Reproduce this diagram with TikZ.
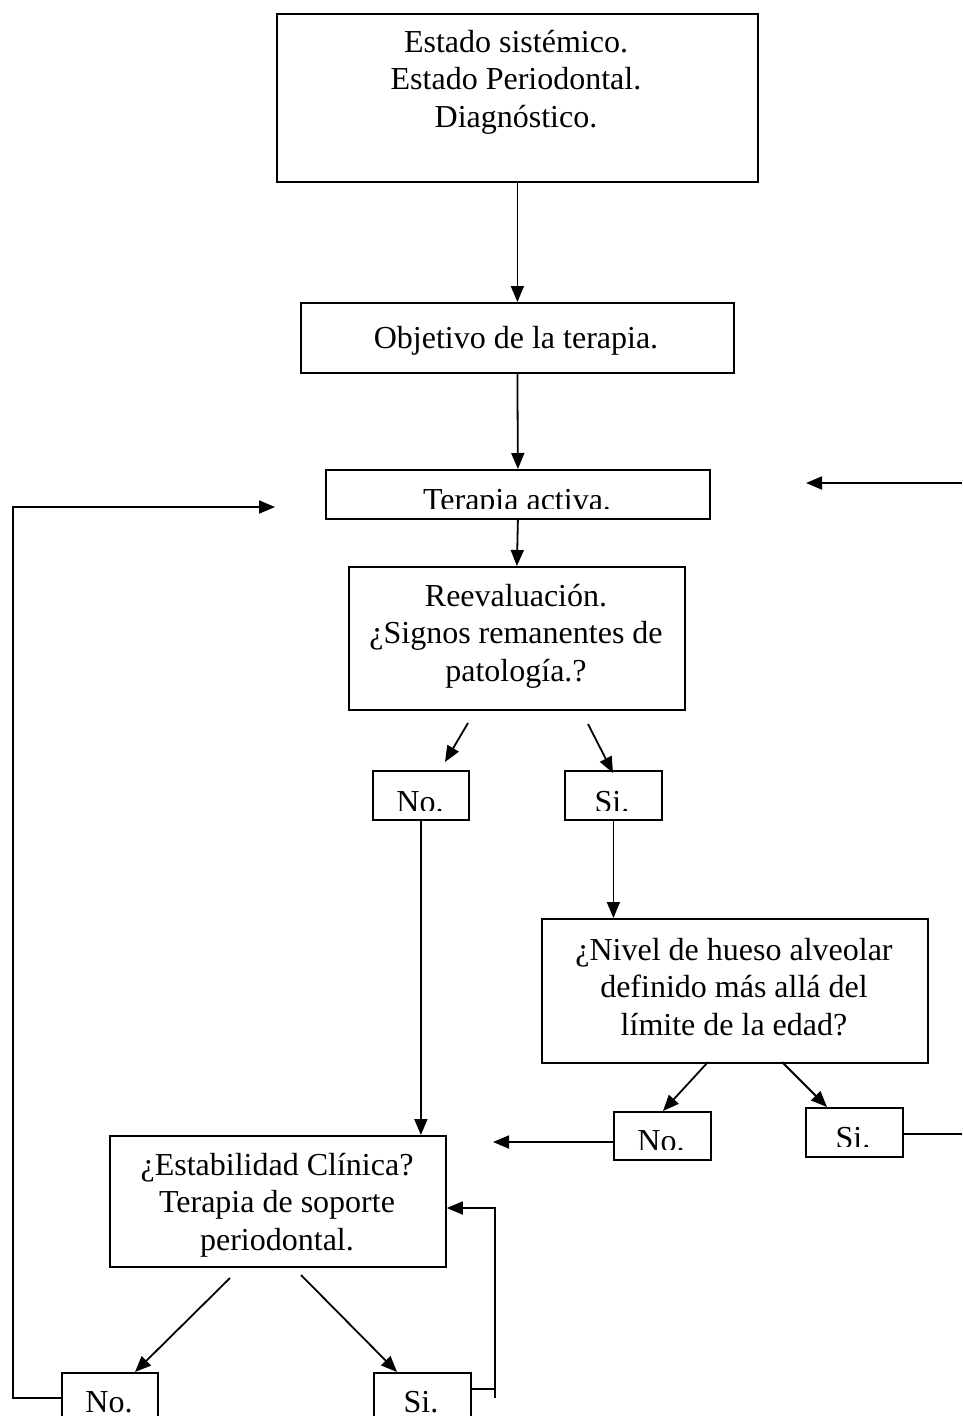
\documentclass[tikz,border=0pt]{standalone}
\usepackage{fontspec}
\setmainfont{Liberation Serif}
\usetikzlibrary{arrows.meta}
\begin{document}
\begin{tikzpicture}[x=1pt,y=-1pt,
  box/.style={draw,line width=1.8pt,anchor=north west,inner sep=0pt},
  txt/.style={font=\fontsize{32}{37.5}\selectfont,align=center,inner sep=0pt,anchor=base},
  conn/.style={line width=1.8pt},
  arr/.style={conn,-{Triangle[length=16pt,width=13pt]}}]
\useasboundingbox (0,0) rectangle (962,1416);

% boxes
\node[box,minimum width=481pt,minimum height=168pt] (b1) at (276,13) {};
\node[box,minimum width=433pt,minimum height=70pt] (b2) at (300,302) {};
\node[box,minimum width=384pt,minimum height=49pt] (b3) at (325,469) {};
\node[box,minimum width=336pt,minimum height=143pt] (b4) at (348,566) {};
\node[box,minimum width=96pt,minimum height=49pt] (n1) at (372,770) {};
\node[box,minimum width=97pt,minimum height=49pt] (s1) at (564,770) {};
\node[box,minimum width=386pt,minimum height=144pt] (b5) at (541,918) {};
\node[box,minimum width=97pt,minimum height=48pt] (n2) at (613,1111) {};
\node[box,minimum width=97pt,minimum height=49pt] (s2) at (805,1107) {};
\node[box,minimum width=336pt,minimum height=131pt] (b6) at (109,1135) {};
\node[box,minimum width=96pt,minimum height=60pt] (n3) at (61,1372) {};
\node[box,minimum width=97pt,minimum height=60pt] (s3) at (373,1372) {};

% texts (base anchor = baseline of the last line)
\node[txt] (t1) at (516,127) {Estado sistémico.\\Estado Periodontal.\\Diagnóstico.};
\node[txt] (t2) at (516,348) {Objetivo de la terapia.};
\begin{scope}
  \clip (325,469) rectangle (709,508);
  \node[txt] (t3) at (517,510) {Terapia activa.};
\end{scope}
\node[txt] (t4) at (516,681) {Reevaluación.\\¿Signos remanentes de\\patología.?};
\begin{scope}
  \clip (372,770) rectangle (468,810);
  \node[txt] (tn1) at (420,812) {No.};
\end{scope}
\begin{scope}
  \clip (564,770) rectangle (661,810);
  \node[txt] (ts1) at (612,812) {Si.};
\end{scope}
\node[txt] (t5) at (734,1035) {¿Nivel de hueso alveolar\\definido más allá del\\límite de la edad?};
\begin{scope}
  \clip (613,1111) rectangle (710,1149);
  \node[txt] (tn2) at (661,1151) {No.};
\end{scope}
\begin{scope}
  \clip (805,1107) rectangle (902,1146);
  \node[txt] (ts2) at (853,1148) {Si.};
\end{scope}
\node[txt] (t6) at (277,1250) {¿Estabilidad Clínica?\\Terapia de soporte\\periodontal.};
\node[txt] (tn3) at (109,1412) {No.};
\node[txt] (ts3) at (421,1412) {Si.};

% connectors
\draw[arr] (b1.south) -- (b2.north);
\draw[arr] (b2.south) -- (b3.north);
\draw[arr] (b3.south) -- (b4.north);

\coordinate (a1s) at (468,723); \coordinate (a1e) at (445,762);
\coordinate (a2s) at (588,724); \coordinate (a2e) at (613,773);
\draw[arr] (a1s) -- (a1e);
\draw[arr] (a2s) -- (a2e);

\draw[arr] (n1.south) -- (n1.south |- b6.north);
\draw[arr] (s1.south) -- (s1.south |- b5.north);

\coordinate (a3s) at (708,1062); \coordinate (a3e) at (663,1111);
\coordinate (a4s) at (782,1062); \coordinate (a4e) at (827,1107);
\draw[arr] (a3s) -- (a3e);
\draw[arr] (a4s) -- (a4e);

\coordinate (cN) at (493,1142);
\draw[arr] (n2.west |- cN) -- (cN);
\coordinate (cR1) at (962,1134);
\draw[conn] (s2.east |- cR1) -- (cR1);
\coordinate (cR2) at (962,483); \coordinate (cR3) at (806,483);
\draw[arr] (cR2) -- (cR3);

\coordinate (a5s) at (230,1278); \coordinate (a5e) at (135,1372);
\coordinate (a6s) at (301,1275); \coordinate (a6e) at (397,1372);
\draw[arr] (a5s) -- (a5e);
\draw[arr] (a6s) -- (a6e);

\coordinate (cL) at (13,1398); \coordinate (cT) at (275,507);
\draw[arr] (n3.west |- cL) -- (cL) |- (cT);

\coordinate (cS) at (495,1389); \coordinate (cSb) at (495,1398); \coordinate (cSt) at (495,1208);
\draw[conn] (s3.east |- cS) -- (cS);
\draw[arr] (cSb) -- (cSt) -- (b6.east |- cSt);
\end{tikzpicture}
\end{document}
